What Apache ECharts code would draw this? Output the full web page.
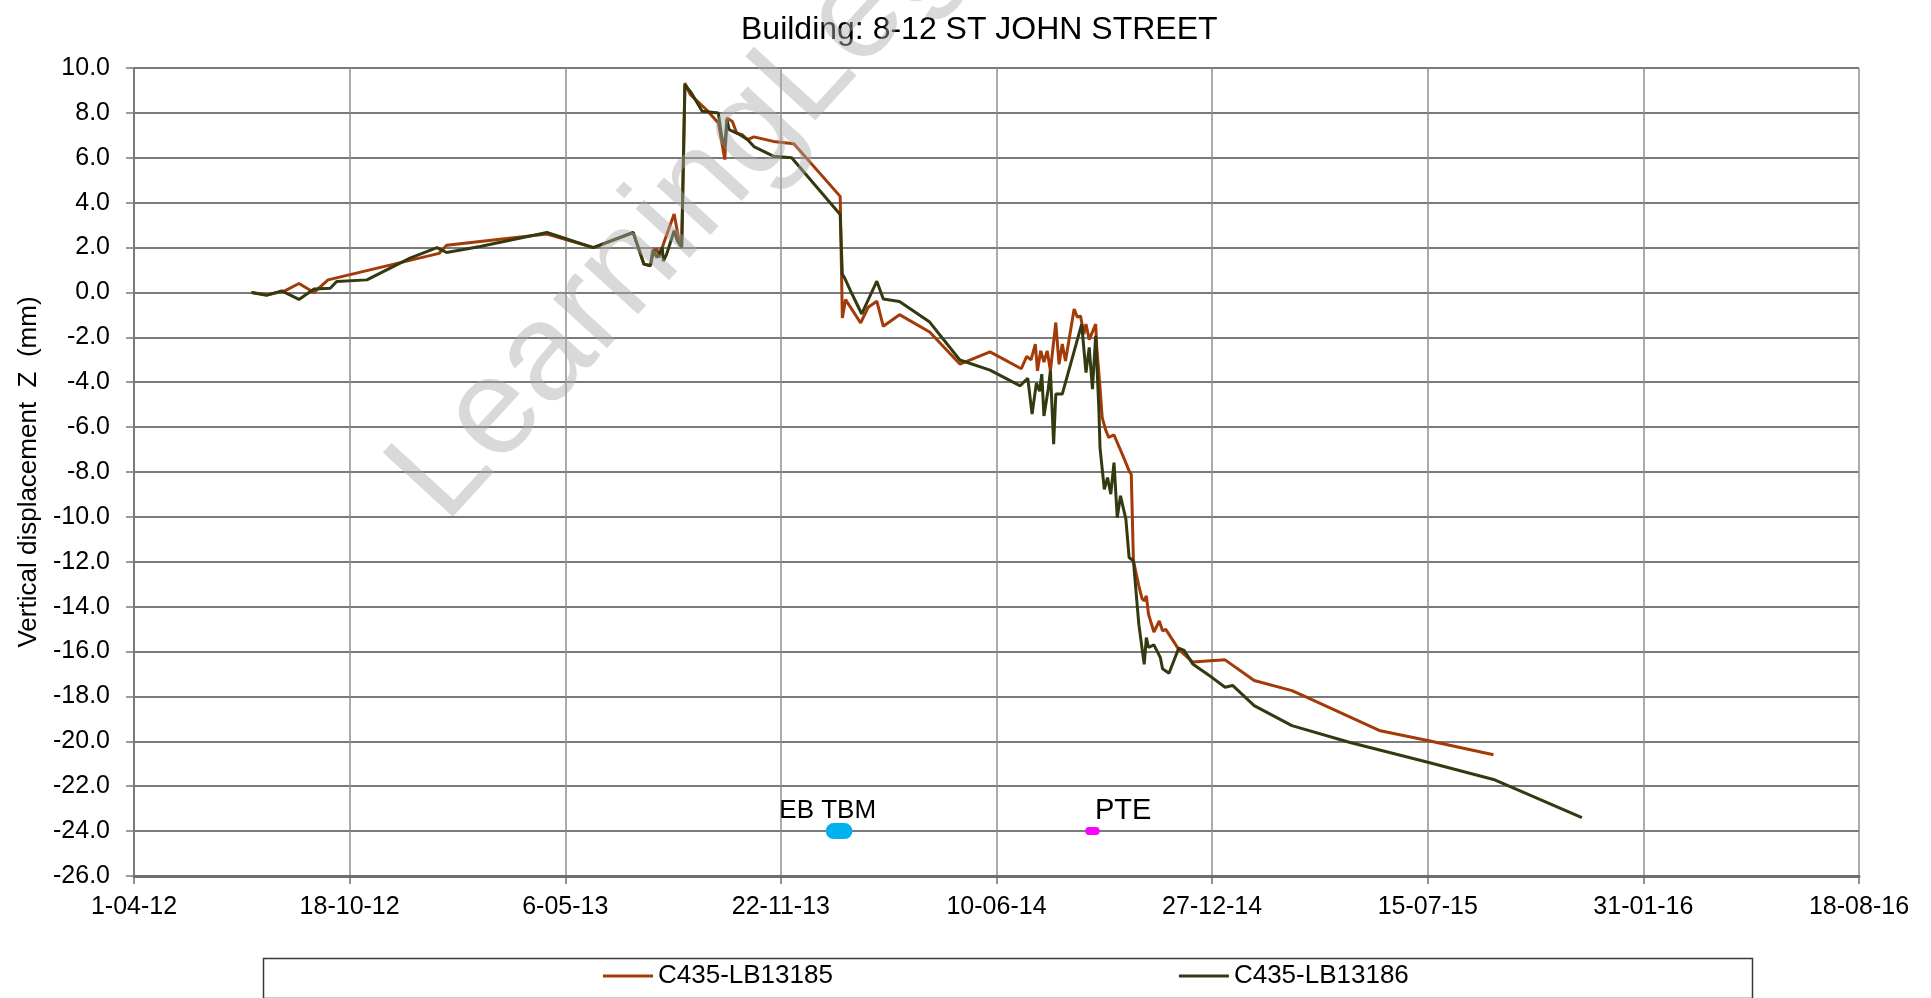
<!DOCTYPE html>
<html>
<head>
<meta charset="utf-8">
<script src="https://cdn.jsdelivr.net/npm/echarts@6/dist/echarts.min.js"></script>
<style>
  html, body { margin: 0; padding: 0; background: #fff; }
  #chart { width: 1931px; height: 998px; }
</style>
</head>
<body>
<div id="chart"></div>
<script>
// C435-LB13185
const redDates = ['2012-07-19','2012-08-02','2012-08-18','2012-09-01','2012-09-15','2012-09-28','2013-01-09','2013-01-16','2013-04-19','2013-06-01','2013-07-08','2013-07-18','2013-07-24','2013-07-26','2013-07-30','2013-08-01','2013-08-05','2013-08-15','2013-08-19','2013-08-21','2013-08-22','2013-08-25','2013-08-30','2013-09-14','2013-09-25','2013-10-01','2013-10-03','2013-10-08','2013-10-12','2013-10-17','2013-10-22','2013-10-28','2013-11-15','2013-12-04','2014-01-16','2014-01-18','2014-01-21','2014-02-04','2014-02-11','2014-02-19','2014-02-25','2014-03-12','2014-04-09','2014-05-07','2014-06-04','2014-07-03','2014-07-08','2014-07-12','2014-07-16','2014-07-18','2014-07-21','2014-07-24','2014-07-27','2014-07-30','2014-08-04','2014-08-07','2014-08-10','2014-08-13','2014-08-21','2014-08-24','2014-08-27','2014-08-30','2014-09-01','2014-09-04','2014-09-10','2014-09-11','2014-09-14','2014-09-16','2014-09-19','2014-09-22','2014-09-27','2014-10-02','2014-10-06','2014-10-11','2014-10-13','2014-10-15','2014-10-20','2014-10-23','2014-10-25','2014-10-27','2014-10-29','2014-11-03','2014-11-08','2014-11-11','2014-11-14','2014-11-26','2014-12-09','2015-01-08','2015-02-04','2015-03-11','2015-03-25','2015-06-01','2015-07-16','2015-09-14'];
const redValues = [0.0,-0.1,0.05,0.4,0.0,0.56,1.74,2.1,2.6,2.0,2.67,1.26,1.2,1.86,1.93,1.55,2.15,3.49,2.45,2.3,2.1,9.33,8.81,8.14,7.55,5.92,7.77,7.62,7.1,7.03,6.81,6.93,6.73,6.63,4.28,-1.14,-0.32,-1.36,-0.66,-0.39,-1.51,-0.99,-1.76,-3.19,-2.65,-3.4,-2.85,-3.0,-2.3,-3.49,-2.6,-3.1,-2.6,-3.49,-1.34,-3.2,-2.3,-3.05,-0.74,-1.1,-1.05,-1.86,-1.41,-2.1,-1.41,-2.45,-4.23,-5.57,-6.09,-6.46,-6.35,-6.91,-7.36,-7.95,-8.1,-11.96,-13.07,-13.64,-13.74,-13.52,-14.34,-15.13,-14.64,-15.08,-15.01,-15.9,-16.47,-16.37,-17.29,-17.74,-18.04,-19.53,-19.97,-20.6];

// C435-LB13186
const greenDates = ['2012-07-19','2012-08-02','2012-08-16','2012-09-01','2012-09-15','2012-09-30','2012-10-06','2012-11-03','2012-12-13','2013-01-07','2013-01-16','2013-02-16','2013-04-19','2013-06-01','2013-07-08','2013-07-18','2013-07-24','2013-07-27','2013-07-30','2013-08-04','2013-08-05','2013-08-08','2013-08-15','2013-08-18','2013-08-22','2013-08-25','2013-08-31','2013-09-10','2013-09-25','2013-09-28','2013-10-01','2013-10-03','2013-10-05','2013-10-15','2013-10-22','2013-10-28','2013-11-15','2013-12-02','2014-01-16','2014-01-18','2014-01-20','2014-01-27','2014-02-05','2014-02-19','2014-02-25','2014-03-12','2014-04-09','2014-05-07','2014-06-04','2014-07-02','2014-07-09','2014-07-13','2014-07-17','2014-07-20','2014-07-22','2014-07-24','2014-07-28','2014-07-30','2014-08-02','2014-08-04','2014-08-10','2014-08-28','2014-09-01','2014-09-04','2014-09-07','2014-09-10','2014-09-13','2014-09-14','2014-09-18','2014-09-21','2014-09-24','2014-09-27','2014-09-30','2014-10-03','2014-10-08','2014-10-11','2014-10-15','2014-10-20','2014-10-25','2014-10-27','2014-10-29','2014-11-03','2014-11-09','2014-11-11','2014-11-17','2014-11-26','2014-12-01','2014-12-09','2014-12-27','2015-01-08','2015-01-15','2015-02-04','2015-03-11','2015-05-04','2015-07-16','2015-09-14','2015-12-05'];
const greenValues = [0.0,-0.13,0.07,-0.31,0.15,0.19,0.49,0.56,1.53,2.0,1.78,2.05,2.67,2.0,2.67,1.26,1.19,1.86,1.55,2.0,1.4,1.7,2.75,2.3,2.0,9.26,8.89,8.07,8.0,6.96,6.5,7.7,7.25,7.03,6.81,6.5,6.07,6.0,3.47,0.81,0.66,-0.07,-0.96,0.5,-0.29,-0.4,-1.32,-3.01,-3.46,-4.16,-3.82,-5.42,-4.04,-4.4,-3.64,-5.5,-4.3,-3.49,-6.76,-4.53,-4.53,-1.41,-3.57,-2.45,-4.31,-1.93,-5.27,-6.91,-8.77,-8.25,-8.99,-7.58,-10.03,-9.06,-10.1,-11.81,-11.96,-14.78,-16.57,-15.38,-15.82,-15.7,-16.27,-16.77,-16.97,-15.85,-15.95,-16.55,-17.16,-17.59,-17.51,-18.41,-19.3,-20.05,-20.94,-21.7,-23.4];

// event markers
const tbmDates = ['2014-01-10', '2014-01-20'];
const pteDates = ['2014-09-04', '2014-09-10'];
const markerLevel = -24;

const seriesNames = ['C435-LB13185', 'C435-LB13186'];
const axisStart = '2012-04-01';
const dayStep = 200;
const tickCount = 8;

const DAY = 86400000;
function toUTC(s) {
  const p = s.split('-').map(Number);
  return Date.UTC(p[0], p[1] - 1, p[2]);
}
const origin = toUTC(axisStart);
function dayOf(s) { return Math.round((toUTC(s) - origin) / DAY); }
function pad(n) { return n < 10 ? '0' + n : '' + n; }
function dateLabel(v) {
  const d = new Date(origin + v * DAY);
  return d.getUTCDate() + '-' + pad(d.getUTCMonth() + 1) + '-' + pad(d.getUTCFullYear() % 100);
}
function pairs(dates, values) {
  const out = [];
  for (let i = 0; i < Math.min(dates.length, values.length); i++) {
    out.push([dayOf(dates[i]), values[i]]);
  }
  return out;
}

const FONT = 'Liberation Sans, Arial, sans-serif';
const chart = echarts.init(document.getElementById('chart'));

const option = {
  animation: false,
  backgroundColor: '#fff',
  title: {
    text: 'Building: 8-12 ST JOHN STREET',
    left: 736,
    top: 9,
    textStyle: { fontFamily: FONT, fontSize: 32, fontWeight: 'normal', color: '#000' }
  },
  grid: { left: 134, right: 72, top: 68, bottom: 122 },
  legend: {
    data: seriesNames,
    left: 603,
    top: 963,
    padding: 0,
    icon: 'rect',
    itemWidth: 50,
    itemHeight: 3,
    itemGap: 346,
    textStyle: { fontFamily: FONT, fontSize: 26, color: '#000' }
  },
  xAxis: {
    type: 'value',
    min: 0,
    max: dayStep * tickCount,
    interval: dayStep,
    axisLine: { show: true, onZero: false, lineStyle: { color: '#6e6e6e', width: 3 } },
    axisTick: { show: true, length: 8, lineStyle: { color: '#6e6e6e', width: 1.5 } },
    axisLabel: { margin: 19, fontFamily: FONT, fontSize: 25, color: '#000', formatter: dateLabel },
    splitLine: { show: true, lineStyle: { color: '#8f8f8f', width: 1.5 } }
  },
  yAxis: {
    type: 'value',
    min: -26,
    max: 10,
    interval: 2,
    name: 'Vertical displacement  Z  (mm)',
    nameLocation: 'middle',
    nameGap: 92,
    nameTextStyle: { fontFamily: FONT, fontSize: 26, color: '#000' },
    axisLine: { show: true, onZero: false, lineStyle: { color: '#7a7a7a', width: 2 } },
    axisTick: { show: true, length: 8, lineStyle: { color: '#7a7a7a', width: 1.5 } },
    axisLabel: { margin: 24, fontFamily: FONT, fontSize: 25, color: '#000', formatter: v => v.toFixed(1) },
    splitLine: { show: true, lineStyle: { color: '#7a7a7a', width: 2 } }
  },
  series: [
    {
      name: seriesNames[0],
      type: 'line',
      data: pairs(redDates, redValues),
      showSymbol: false,
      color: '#a33a08',
      lineStyle: { width: 3, color: '#a33a08' },
      z: 3
    },
    {
      name: seriesNames[1],
      type: 'line',
      data: pairs(greenDates, greenValues),
      showSymbol: false,
      color: '#333a10',
      lineStyle: { width: 3, color: '#333a10' },
      z: 4
    },
    {
      name: 'EB TBM',
      type: 'line',
      symbol: 'circle',
      symbolSize: 1,
      itemStyle: { color: '#00b0f0' },
      lineStyle: { width: 16, color: '#00b0f0', cap: 'round' },
      data: tbmDates.map((d, i) => ({
        value: [dayOf(d), markerLevel],
        label: i === 0 ? {
          show: true, formatter: 'EB TBM', position: 'top', distance: 7, offset: [-6, 0],
          fontFamily: FONT, fontSize: 26, color: '#000'
        } : { show: false }
      })),
      z: 5
    },
    {
      name: 'PTE',
      type: 'line',
      symbol: 'circle',
      symbolSize: 1,
      itemStyle: { color: '#ff00ff' },
      lineStyle: { width: 8, color: '#ff00ff', cap: 'round' },
      data: pteDates.map((d, i) => ({
        value: [dayOf(d), markerLevel],
        label: i === 0 ? {
          show: true, formatter: 'PTE', position: 'top', distance: 5, offset: [34, 0],
          fontFamily: FONT, fontSize: 29, color: '#000'
        } : { show: false }
      })),
      z: 5
    }
  ],
  graphic: [
    {
      type: 'rect',
      left: 261,
      top: 956,
      shape: { width: 1489, height: 40 },
      style: { fill: 'none', stroke: '#3a3a3a', lineWidth: 1.5 },
      z: 1
    },
    {
      type: 'text',
      x: 468,
      y: 546,
      rotation: 0.83,
      style: {
        text: 'LearningLeg',
        font: '138px Liberation Sans, Arial, sans-serif',
        fill: 'rgba(170,170,170,0.45)',
        align: 'left',
        verticalAlign: 'bottom'
      },
      z: 100
    }
  ]
};

chart.setOption(option);
</script>
</body>
</html>
